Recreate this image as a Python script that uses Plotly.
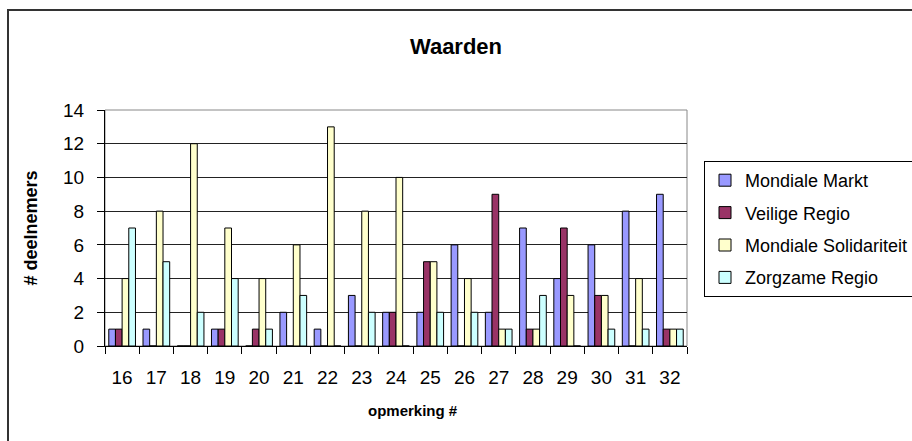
import plotly.graph_objects as go

categories = ["16", "17", "18", "19", "20", "21", "22", "23", "24", "25", "26", "27", "28", "29", "30", "31", "32"]
mondiale_markt = [1, 1, 0, 1, 0, 2, 1, 3, 2, 2, 6, 2, 7, 4, 6, 8, 9]
veilige_regio = [1, 0, 0, 1, 1, 0, 0, 0, 2, 5, 0, 9, 1, 7, 3, 0, 1]
mondiale_solidariteit = [4, 8, 12, 7, 4, 6, 13, 8, 10, 5, 4, 1, 1, 3, 3, 4, 1]
zorgzame_regio = [7, 5, 2, 4, 1, 3, 0, 2, 0, 2, 2, 1, 3, 0, 1, 1, 1]

series = [
    ("Mondiale Markt", mondiale_markt, "#9999FF"),
    ("Veilige Regio", veilige_regio, "#993366"),
    ("Mondiale Solidariteit", mondiale_solidariteit, "#FFFFCC"),
    ("Zorgzame Regio", zorgzame_regio, "#CCFFFF"),
]

FONT = "Liberation Sans, Arial, sans-serif"

fig = go.Figure()
for name, vals, color in series:
    fig.add_trace(go.Bar(
        x=categories, y=vals, name=name, legendgroup=name,
        marker=dict(color=color, line=dict(color="black", width=1)),
    ))

L, R, T, B = 105, 225, 110, 95
W, H = 912, 441
pw = W - L - R
ph = H - T - B

def px_x(x):
    return (x - L) / pw

def px_y(y):
    return (H - B - y) / ph

fig.update_layout(
    width=W, height=H,
    margin=dict(l=L, r=R, t=T, b=B, autoexpand=False),
    paper_bgcolor="white", plot_bgcolor="white",
    barmode="group", bargap=0.22, bargroupgap=0,
    font=dict(family=FONT, color="black", size=16),
    title=dict(text="<b>Waarden</b>", x=px_x(456), xanchor="center", xref="paper",
               y=1 - 46 / H, yanchor="middle", font=dict(size=22)),
    legend=dict(
        x=px_x(704), y=px_y(161), xanchor="left", yanchor="top",
        bordercolor="black", borderwidth=1, bgcolor="white",
        font=dict(size=18), tracegroupgap=6, traceorder="grouped",
        itemwidth=30,
    ),
    showlegend=True,
    annotations=[dict(
        text="<b>opmerking #</b>", xref="paper", yref="paper",
        x=px_x(413), y=px_y(410), xanchor="center", yanchor="middle",
        showarrow=False, font=dict(size=15),
    )],
)

fig.update_xaxes(
    type="category", showgrid=False, showline=True, linecolor="black", linewidth=1,
    ticks="outside", tickson="boundaries", ticklen=7, tickcolor="black",
    tickfont=dict(size=19), ticklabelstandoff=14,
)
fig.update_yaxes(
    range=[0, 14], dtick=2, showgrid=True, gridcolor="#222", gridwidth=1,
    showline=True, linecolor="black", linewidth=1, zeroline=False,
    ticks="outside", ticklen=7, tickcolor="black", tickfont=dict(size=19),
    ticklabelstandoff=9,
    title=dict(text="<b># deelnemers</b>", font=dict(size=18), standoff=20),
)

# plot area border (grey) and outer chart frame
fig.add_shape(type="rect", xref="paper", yref="paper", x0=0, x1=1, y0=0, y1=1,
              line=dict(color="#888", width=1), layer="below")
fig.add_shape(type="rect", xref="paper", yref="paper",
              x0=px_x(8), x1=px_x(W + 20), y0=px_y(H + 20), y1=px_y(10),
              line=dict(color="#333", width=2), layer="below")

fig.write_html(
    "out.html",
    config={"displayModeBar": False},
    post_script="document.body.style.margin='0';document.body.style.overflow='hidden';",
)
